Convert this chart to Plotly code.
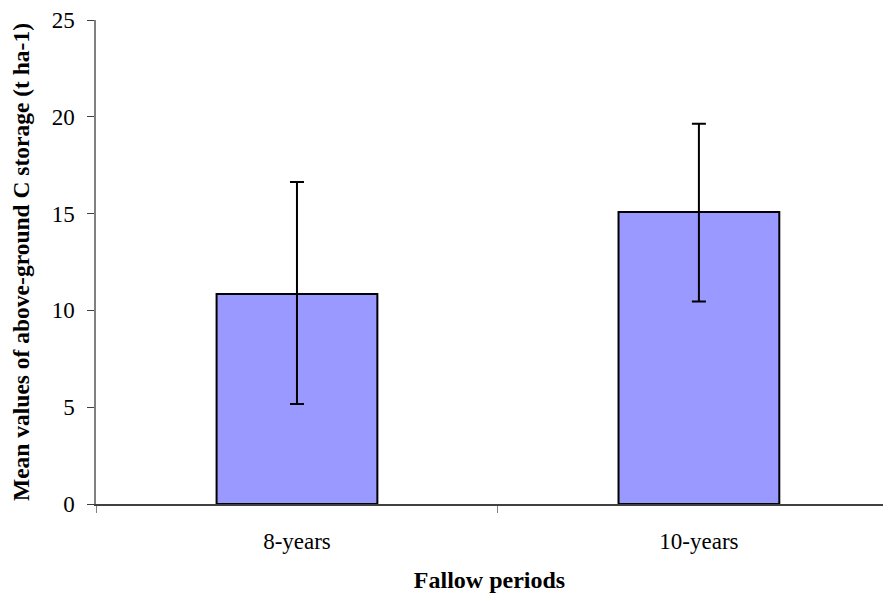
import plotly.graph_objects as go

categories = ["8-years", "10-years"]
means = [10.85, 15.08]
err_plus = [5.78, 4.56]
err_minus = [5.68, 4.62]
y_ticks = [0, 5, 10, 15, 20, 25]

fig = go.Figure()
fig.add_trace(go.Bar(
    x=categories, y=means, width=0.4,
    marker=dict(color="#9999FF", line=dict(color="black", width=2)),
    error_y=dict(type="data", symmetric=False, array=err_plus, arrayminus=err_minus,
                 color="black", thickness=2, width=7),
))

font = "Liberation Serif, Times New Roman, serif"
fig.update_layout(
    width=875, height=585,
    margin=dict(l=88, r=0, t=12, b=89),
    plot_bgcolor="white", paper_bgcolor="white",
    showlegend=False,
    font=dict(family=font, size=23, color="black"),
    xaxis=dict(
        type="category", range=[-0.5, 1.458],
        showline=True, linecolor="#404040", linewidth=1.5,
        ticks="outside", tickson="boundaries", ticklen=7, tickcolor="#808080",
        showgrid=False, zeroline=False,
        tickfont=dict(family=font, size=23),
        ticklabelstandoff=16,
        title=dict(text="<b>Fallow periods</b>", font=dict(family=font, size=24), standoff=21),
    ),
    yaxis=dict(
        range=[0, 25], tickvals=y_ticks,
        showline=True, linecolor="#808080", linewidth=1.5,
        ticks="outside", ticklen=7, tickcolor="#404040",
        showgrid=False, zeroline=False,
        tickfont=dict(family=font, size=23),
        ticklabelstandoff=8,
        title=dict(text="<b>Mean values of above-ground C storage (t ha-1)</b>",
                   font=dict(family=font, size=23.5), standoff=16),
    ),
)
fig.write_html("out.html")
